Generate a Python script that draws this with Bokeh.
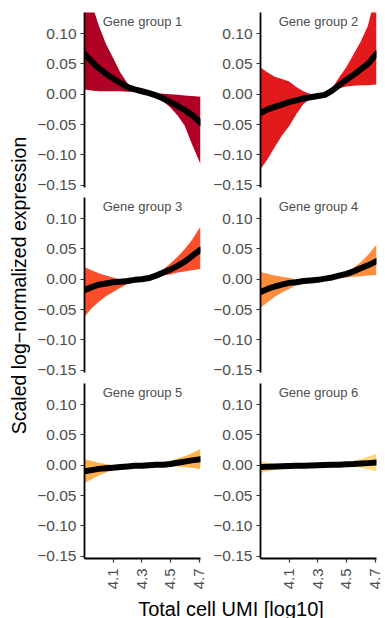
import math
from bokeh.plotting import figure
from bokeh.layouts import row, column
from bokeh.models import Label, FixedTicker, CustomJSTickFormatter, Range1d
from bokeh.embed import file_html
from bokeh.resources import INLINE

# ---------------- data ----------------
umi_log10 = [3.90, 3.95, 4.00, 4.05, 4.10, 4.15, 4.20, 4.25, 4.30, 4.35,
             4.40, 4.45, 4.50, 4.55, 4.60, 4.65, 4.71]

group_names = ["Gene group 1", "Gene group 2", "Gene group 3",
               "Gene group 4", "Gene group 5", "Gene group 6"]
group_colors = ["#b10026", "#e31a1c", "#fc4e2a", "#fd8d3c", "#feb24c", "#fed976"]

g1_fit = [0.067, 0.054, 0.043, 0.034, 0.026, 0.019, 0.012, 0.008, 0.005, 0.002,
          -0.002, -0.007, -0.013, -0.019, -0.026, -0.034, -0.047]
g1_upper = [0.180, 0.150, 0.113, 0.083, 0.060, 0.036, 0.018, 0.010, 0.006, 0.004,
            0.002, 0.001, 0.000, -0.001, -0.002, -0.003, -0.004]
g1_lower = [0.008, 0.006, 0.005, 0.005, 0.005, 0.005, 0.004, 0.004, 0.002, -0.001,
            -0.006, -0.012, -0.022, -0.035, -0.052, -0.082, -0.115]

g2_fit = [-0.031, -0.025, -0.021, -0.017, -0.013, -0.010, -0.007, -0.005, -0.003, -0.001,
          0.006, 0.015, 0.024, 0.032, 0.041, 0.050, 0.067]
g2_upper = [0.044, 0.036, 0.029, 0.025, 0.021, 0.012, 0.005, 0.000, -0.001, 0.001,
            0.010, 0.028, 0.045, 0.066, 0.087, 0.113, 0.170]
g2_lower = [-0.124, -0.107, -0.087, -0.068, -0.053, -0.033, -0.016, -0.007, -0.004, -0.003,
            0.003, 0.010, 0.013, 0.014, 0.015, 0.015, 0.016]

g3_fit = [-0.018, -0.013, -0.009, -0.007, -0.005, -0.004, -0.003, -0.001, 0.000, 0.002,
          0.006, 0.011, 0.016, 0.022, 0.029, 0.038, 0.049]
g3_upper = [0.020, 0.015, 0.010, 0.006, 0.003, 0.000, -0.001, 0.000, 0.002, 0.004,
            0.009, 0.016, 0.026, 0.037, 0.050, 0.065, 0.087]
g3_lower = [-0.062, -0.048, -0.037, -0.028, -0.021, -0.014, -0.008, -0.004, -0.001, 0.001,
            0.004, 0.006, 0.008, 0.011, 0.013, 0.015, 0.017]

g4_fit = [-0.021, -0.016, -0.012, -0.009, -0.006, -0.005, -0.003, -0.002, -0.001, 0.001,
          0.003, 0.006, 0.009, 0.013, 0.018, 0.023, 0.030]
g4_upper = [0.012, 0.009, 0.006, 0.004, 0.002, 0.000, -0.001, -0.001, 0.000, 0.002,
            0.004, 0.008, 0.013, 0.019, 0.028, 0.040, 0.057]
g4_lower = [-0.047, -0.038, -0.029, -0.022, -0.016, -0.010, -0.006, -0.003, -0.002, 0.000,
            0.001, 0.002, 0.003, 0.004, 0.005, 0.006, 0.007]

g5_fit = [-0.010, -0.008, -0.006, -0.005, -0.004, -0.003, -0.002, -0.001, -0.001, 0.000,
          0.001, 0.001, 0.002, 0.004, 0.006, 0.008, 0.010]
g5_upper = [0.010, 0.007, 0.004, 0.002, 0.000, -0.001, -0.001, 0.000, 0.000, 0.001,
            0.002, 0.004, 0.007, 0.011, 0.015, 0.020, 0.027]
g5_lower = [-0.029, -0.023, -0.017, -0.012, -0.008, -0.005, -0.003, -0.002, -0.001, -0.001,
            0.000, 0.000, -0.001, -0.002, -0.003, -0.004, -0.006]

g6_fit = [-0.003, -0.0025, -0.002, -0.0017, -0.0013, -0.001, -0.0007, -0.0004, 0.000, 0.0003,
          0.0007, 0.001, 0.0015, 0.002, 0.0028, 0.0035, 0.0045]
g6_upper = [0.006, 0.004, 0.002, 0.001, 0.000, 0.000, 0.000, 0.000, 0.001, 0.001,
            0.002, 0.003, 0.005, 0.007, 0.010, 0.014, 0.019]
g6_lower = [-0.013, -0.010, -0.008, -0.006, -0.004, -0.003, -0.002, -0.001, -0.001, -0.001,
            0.000, 0.000, -0.001, -0.002, -0.004, -0.006, -0.010]

fits = [g1_fit, g2_fit, g3_fit, g4_fit, g5_fit, g6_fit]
uppers = [g1_upper, g2_upper, g3_upper, g4_upper, g5_upper, g6_upper]
lowers = [g1_lower, g2_lower, g3_lower, g4_lower, g5_lower, g6_lower]

y_ticks = [-0.15, -0.10, -0.05, 0.00, 0.05, 0.10]
x_ticks = [4.1, 4.3, 4.5, 4.7]
x_title = "Total cell UMI [log10]"
y_title = "Scaled log\u2212normalized expression"

FONT = "Liberation Sans"
X_RANGE = (3.90, 4.71)
Y_RANGE = (-0.154, 0.135)

# ---------------- layout sizes ----------------
FRAME_W, FRAME_H = 116, 175
row_borders = [(12, 8), (2, 8), (3, 34)]   # (top, bottom) per row
col_borders = [(52, 8), (52, 9)]           # (left, right) per column


def make_panel(i):
    r, c = divmod(i, 2)
    top, bottom = row_borders[r]
    left, right = col_borders[c]
    last_row = (r == 2)
    p = figure(width=left + FRAME_W + right, height=top + FRAME_H + bottom,
               x_range=Range1d(*X_RANGE), y_range=Range1d(*Y_RANGE),
               x_axis_location="below" if last_row else None,
               toolbar_location=None, output_backend="svg",
               min_border_left=left, min_border_right=right,
               min_border_top=top, min_border_bottom=bottom)
    p.outline_line_color = None
    p.background_fill_color = "white"
    p.border_fill_color = "white"
    p.grid.visible = False

    p.varea(x=umi_log10, y1=lowers[i], y2=uppers[i],
            fill_color=group_colors[i], fill_alpha=1.0)
    p.line(x=umi_log10, y=fits[i], line_color="black", line_width=6,
           line_join="round", line_cap="round")

    ya = p.yaxis[0]
    ya.ticker = FixedTicker(ticks=y_ticks)
    ya.formatter = CustomJSTickFormatter(
        code="return tick.toFixed(2).replace('-', '\u2212');")
    ya.minor_tick_line_color = None
    ya.major_tick_in = 0
    ya.major_tick_out = 4
    ya.major_tick_line_color = "#333333"
    ya.major_tick_line_width = 1.2
    ya.axis_line_color = "black"
    ya.axis_line_width = 1.8
    ya.major_label_text_font = FONT
    ya.major_label_text_font_size = "15.5px"
    ya.major_label_text_color = "#4d4d4d"
    ya.major_label_standoff = 4

    if last_row:
        xa = p.xaxis[0]
        xa.ticker = FixedTicker(ticks=x_ticks)
        xa.minor_tick_line_color = None
        xa.major_tick_in = 0
        xa.major_tick_out = 4
        xa.major_tick_line_color = "#333333"
        xa.major_tick_line_width = 1.2
        xa.axis_line_color = "black"
        xa.axis_line_width = 1.8
        xa.major_label_orientation = math.pi / 2
        xa.major_label_text_font = FONT
        xa.major_label_text_font_size = "15px"
        xa.major_label_text_color = "#4d4d4d"
        xa.major_label_standoff = 6

    p.add_layout(Label(x=FRAME_W / 2, y=FRAME_H - 8.7, x_units="screen", y_units="screen",
                       text=group_names[i], text_align="center",
                       text_baseline="alphabetic", text_font=FONT,
                       text_font_size="13px", text_color="#4d4d4d"))
    return p


panels = [make_panel(i) for i in range(6)]


def blank(width, height):
    f = figure(width=width, height=height, x_range=Range1d(0, 1), y_range=Range1d(0, 1),
               x_axis_location=None, y_axis_location=None, toolbar_location=None,
               output_backend="svg", min_border=0)
    f.outline_line_color = None
    f.grid.visible = False
    return f


ylab = blank(32, 618)
ylab.add_layout(Label(x=18, y=618 - 285, x_units="screen", y_units="screen",
                      text=y_title, angle=math.pi / 2, text_align="center",
                      text_baseline="middle", text_font=FONT,
                      text_font_size="19.5px", text_color="black"))

xlab = blank(353, 26)
xlab.add_layout(Label(x=198.5, y=10, x_units="screen", y_units="screen",
                      text=x_title, text_align="center",
                      text_baseline="alphabetic", text_font=FONT,
                      text_font_size="20px", text_color="black"))

grid = column(row(panels[0], panels[1]), row(panels[2], panels[3]),
              row(panels[4], panels[5]), xlab)
layout = row(ylab, grid)

open("out.html", "w").write(file_html(layout, INLINE))
